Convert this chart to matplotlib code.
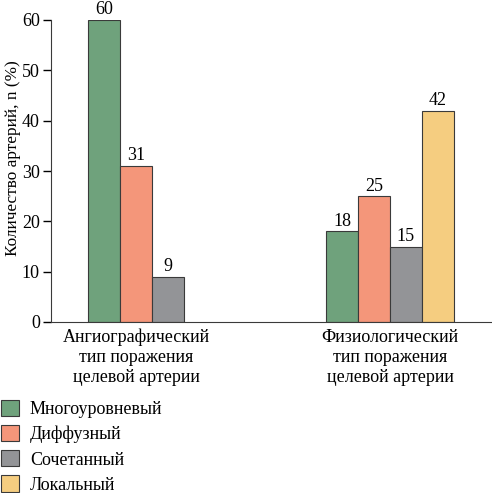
import numpy as np
import matplotlib
matplotlib.use("Agg")
import matplotlib.pyplot as plt
from matplotlib.patches import Patch

plt.rcParams['font.family'] = ['Liberation Serif', 'DejaVu Serif']

# ---- data ----
groups = ["Ангиографический\nтип поражения\nцелевой артерии",
          "Физиологический\nтип поражения\nцелевой артерии"]
series = ["Многоуровневый", "Диффузный", "Сочетанный", "Локальный"]
colors = ["#6fa27c", "#f4967a", "#939497", "#f5cd80"]
angio = [60, 31, 9]          # no "Локальный" bar in the first group
physio = [18, 25, 15, 42]

w = 0.126
centers = [0.0, 1.0]
fs = 13

fig = plt.figure(figsize=(4.92, 4.93), dpi=100)
ax = fig.add_axes([51/492, 1 - 322/493, 1 - 51/492, 302/493])

for vals, c in zip([angio, physio], centers):
    n = len(vals)
    xs = c + (np.arange(n) - (n - 1) / 2) * w
    for i, (x, v) in enumerate(zip(xs, vals)):
        ax.bar(x, v, width=w, color=colors[i], edgecolor="#3a3a3a", linewidth=0.8)
        ax.text(x, v + 0.3, str(v), ha="center", va="bottom", fontsize=fs)

ax.set_xlim(-0.335, 1.402)
ax.set_ylim(0, 60)
ax.set_yticks(range(0, 61, 10))
ax.set_xticks(centers)
ax.set_xticklabels(groups, fontsize=fs, linespacing=1.22)
ax.tick_params(axis="x", length=0, pad=5)
ax.tick_params(axis="y", length=6, width=1, labelsize=fs, pad=2)
ax.set_ylabel("Количество артерий, n (%)", fontsize=12.4)
ax.yaxis.set_label_coords(-0.068, 0.543)
ax.spines["top"].set_visible(False)
ax.spines["right"].set_visible(False)
ax.spines["left"].set_color("#3a3a3a")
ax.spines["bottom"].set_color("#3a3a3a")

handles = [Patch(facecolor=col, edgecolor="#3a3a3a", linewidth=0.8) for col in colors]
fig.legend(handles, series, loc="upper left", bbox_to_anchor=(0.002, 1 - 400/493),
           frameon=False, fontsize=fs, handlelength=1.0, handleheight=1.0,
           labelspacing=0.38, handletextpad=0.6, borderpad=0, borderaxespad=0)

fig.savefig("out.png", dpi=100)
